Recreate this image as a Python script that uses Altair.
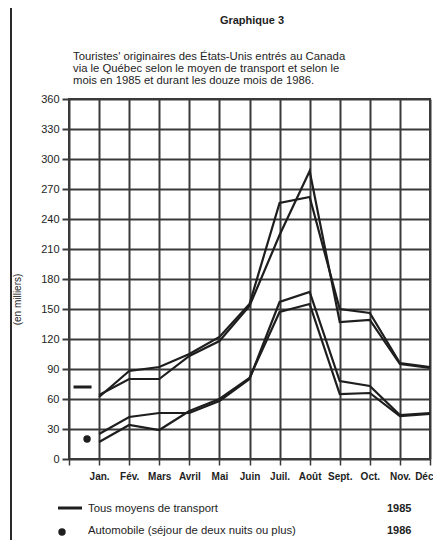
import altair as alt
import pandas as pd

months = ["Jan.", "Fév.", "Mars", "Avril", "Mai", "Juin", "Juil.", "Août", "Sept.", "Oct.", "Nov.", "Déc"]
total_1985 = [62, 88, 92, 105, 122, 155, 256, 262, 150, 146, 96, 92]
total_1986 = [64, 80, 80, 103, 118, 153, 224, 288, 137, 139, 95, 91]
auto_1985 = [25, 42, 46, 46, 58, 80, 157, 167, 78, 73, 44, 46]
auto_1986 = [17, 34, 29, 48, 60, 81, 147, 155, 65, 66, 43, 45]
y_ticks = list(range(0, 361, 30))

series = {
    "Tous 1985": total_1985,
    "Tous 1986": total_1986,
    "Auto 1985": auto_1985,
    "Auto 1986": auto_1986,
}
rows = []
for name, vals in series.items():
    for i, v in enumerate(vals):
        rows.append({"m": i + 1, "mois": months[i], "v": v, "serie": name})
df = pd.DataFrame(rows)

dash_marker = pd.DataFrame({"m": [0.15], "m2": [0.75], "v": [72]})
dot_marker = pd.DataFrame({"m": [0.6], "v": [20]})

FONT = "Liberation Sans"
INK = "#1e1e1e"
GRID = "#3a3a3a"

label_expr = "datum.value >= 1 && datum.value <= 12 ? " + str(months) + "[datum.value - 1] : ''"

xscale = alt.Scale(domain=[0, 12], nice=False, zero=False)
yscale = alt.Scale(domain=[0, 360], nice=False)

xs = alt.X("m:Q", scale=xscale,
           axis=alt.Axis(values=list(range(0, 13)), tickCount=13, labelExpr=label_expr, title=None,
                         grid=True, gridColor=GRID, gridWidth=2, gridOpacity=1,
                         domain=False, ticks=True, tickColor=GRID, tickWidth=1.5, tickSize=6,
                         labelFont=FONT, labelFontSize=10, labelFontWeight="bold",
                         labelColor=INK, labelPadding=6, labelFlush=True, labelFlushOffset=3,
                         labelOverlap=False, labelBound=False))
ys = alt.Y("v:Q", scale=yscale,
           axis=alt.Axis(values=y_ticks, tickCount=13, title="(en milliers)", titleFont=FONT, titleFontSize=10,
                         titleFontWeight="normal", titleColor=INK, titleX=-47, titleY=200,
                         grid=True, gridColor=GRID, gridWidth=2, gridOpacity=1,
                         domain=False, ticks=True, tickColor=GRID, tickWidth=2, tickSize=7,
                         labelFont=FONT, labelFontSize=11, labelColor=INK, labelPadding=3,
                         labelOverlap=False))

lines = alt.Chart(df).mark_line(color=INK, strokeWidth=2.2, strokeJoin="miter").encode(
    x=xs, y=ys, detail="serie:N"
)

dash = alt.Chart(dash_marker).mark_rule(color=INK, strokeWidth=3).encode(
    x=xs, x2="m2:Q", y=ys
)
dot = alt.Chart(dot_marker).mark_point(color=INK, filled=True, opacity=1, size=55).encode(
    x=xs, y=ys
)

def txt(s, x, y, size=11, weight="normal", align="left", font=FONT):
    return alt.Chart(pd.DataFrame({"t": [s]})).mark_text(
        align=align, baseline="middle", font=font, fontSize=size, fontWeight=weight, color=INK
    ).encode(text="t:N", x=alt.value(x), y=alt.value(y))

texts = [
    txt("Graphique  3", 183, -78, size=11, weight="bold", align="center"),
    txt("Touristes' originaires des États-Unis entrés au Canada", 4, -42, size=11.3),
    txt("via le Québec selon le moyen de transport et selon le", 4, -30, size=11.3),
    txt("mois en 1985 et durant les douze mois de 1986.", 4, -18, size=11.3),
    txt("Tous moyens de transport", 19, 410, size=11.3),
    txt("Automobile (séjour de deux nuits ou plus)", 19, 432, size=11.3),
    txt("1985", 318, 410, size=11, weight="bold"),
    txt("1986", 318, 432, size=11, weight="bold"),
]

leg_rule = alt.Chart(pd.DataFrame({"a": [0]})).mark_rule(color=INK, strokeWidth=3).encode(
    x=alt.value(-11), x2=alt.value(13), y=alt.value(409)
)
leg_dot = alt.Chart(pd.DataFrame({"a": [0]})).mark_point(color=INK, filled=True, opacity=1, size=55).encode(
    x=alt.value(-7), y=alt.value(433)
)
frame = alt.Chart(pd.DataFrame({"a": [0]})).mark_rect(fill=None, stroke="#2a2a2a", strokeWidth=2).encode(
    x=alt.value(-58), x2=alt.value(372), y=alt.value(-95), y2=alt.value(446)
)

chart = alt.layer(lines, dash, dot, leg_rule, leg_dot, frame, *texts).properties(
    width=361, height=360,
    autosize=alt.AutoSizeParams(type="none"),
    padding={"left": 61, "top": 91, "right": 3, "bottom": 81},
    background="white",
).configure_view(stroke=GRID, strokeWidth=2)

chart.save("out.html", embed_options={"renderer": "svg", "actions": False})
